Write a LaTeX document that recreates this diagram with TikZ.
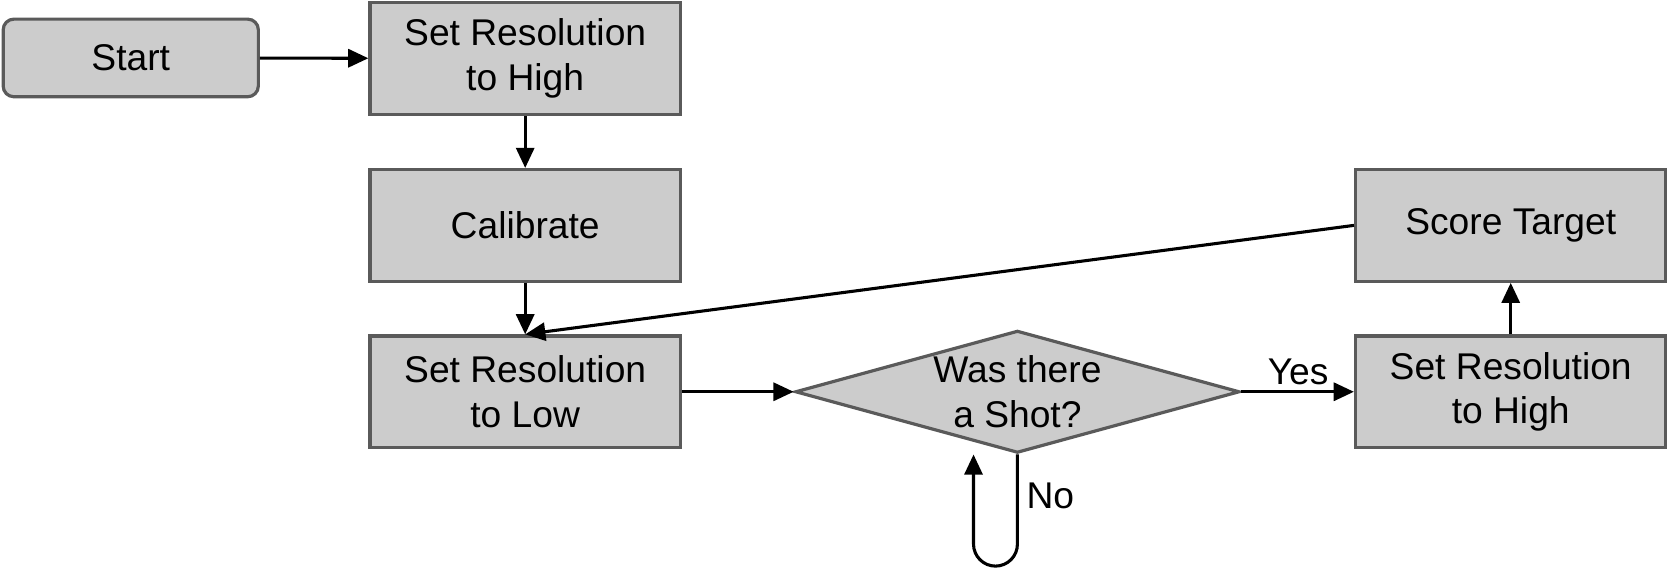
\documentclass[tikz,border=0pt]{standalone}
\usepackage{fontspec}
\setmainfont{Liberation Sans}
\usetikzlibrary{shapes.geometric,arrows.meta,calc}
\definecolor{boxfill}{HTML}{CCCCCC}
\definecolor{boxline}{HTML}{5A5A5A}
\begin{document}
\begin{tikzpicture}[x=0.5pt,y=-0.5pt,
  every node/.style={font=\fontsize{17.5pt}{21pt}\selectfont, align=center, inner sep=0pt},
  procbox/.style={rectangle, draw=boxline, fill=boxfill, line width=1.5pt,
    minimum width=146pt, minimum height=52.5pt},
  startbox/.style={rectangle, rounded corners=5pt, draw=boxline, fill=boxfill, line width=1.5pt,
    minimum width=120pt, minimum height=36.5pt},
  decision/.style={diamond, aspect=3.63, draw=boxline, fill=boxfill, line width=1.5pt,
    minimum width=209pt, minimum height=57.5pt},
  conn/.style={line width=1.45pt, -{Triangle[length=9.5pt,width=8.5pt]}},
  lbl/.style={fill=none, draw=none}]
\useasboundingbox (0,0) rectangle (1568,534.3);
\node[startbox] (start) at (123,54.5) {Start};
\node[procbox] (srh) at (494,55) {Set Resolution\\to High};
\node[procbox] (cal) at (494,212) {Calibrate};
\node[procbox] (srl) at (494,368.5) {Set Resolution\\to Low};
\node[decision] (dia) at (957,368.5) {Was there\\a Shot?};
\node[procbox] (srh2) at (1421,368.5) {Set Resolution\\to High};
\node[procbox] (st) at (1421,212) {Score Target};
\coordinate (loopend) at ($(dia.south)+(-41.3pt*0.5,0)$);
\draw[conn] (start) -- (srh);
\draw[conn] (srh) -- (cal);
\draw[conn] (cal) -- (srl);
\draw[conn] (st.west) -- (srl.north);
\draw[conn] (srl) -- (dia);
\draw[conn] (dia) -- (srh2);
\draw[conn] (srh2) -- (st);
\draw[conn, rounded corners=10.35pt] (dia.south) -- ++(0,105) -- ++(-41.3,0) -- (loopend);
\node[lbl] (yes) at (1221,350) {Yes};
\node[lbl] (no) at (988,466) {No};
\end{tikzpicture}
\end{document}
